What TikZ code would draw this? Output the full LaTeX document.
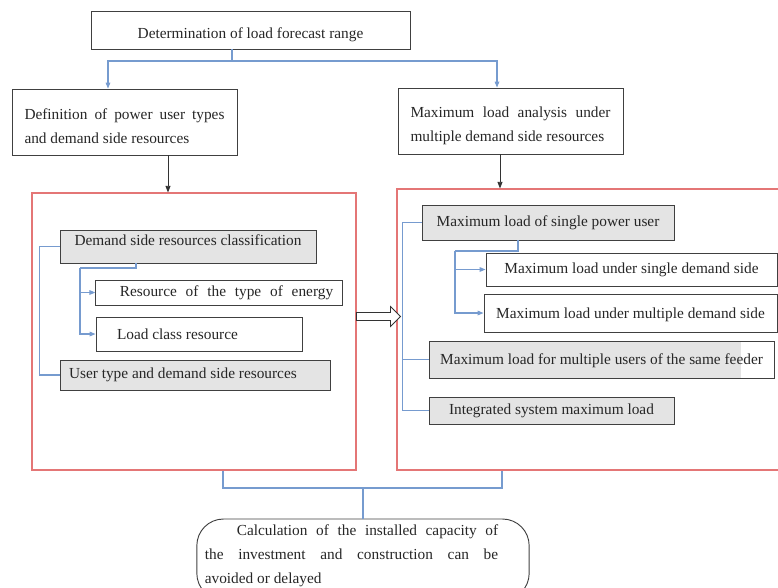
\documentclass[tikz,border=0pt]{standalone}
\usepackage{fontspec}
\setmainfont{Liberation Serif}
\usetikzlibrary{arrows.meta,calc}
\definecolor{framered}{RGB}{228,118,118}
\definecolor{linkblue}{RGB}{118,155,207}
\definecolor{boxgrey}{RGB}{228,228,228}
\tikzset{
    box/.style={draw=black!75, line width=0.7pt, inner sep=3pt,
                align=center, text=black!85},
    shaded/.style={box, fill=boxgrey},
    frame/.style={draw=framered, line width=0.8pt},
    flow/.style={-{Triangle[length=5pt,width=3.8pt]}, line width=0.7pt, black!80},
    link/.style={draw=linkblue, line width=0.8pt},
    branch/.style={link, -{Triangle[length=4.5pt,width=3.5pt]}},
    hollow/.style={draw=black!80, line width=0.6pt, fill=white},
}

\begin{document}
\begin{tikzpicture}[x=0.75pt, y=-0.75pt, font=\fontsize{11.5}{18}\selectfont]
    \useasboundingbox (0,0) rectangle (778,587);

    % outer frames
    \node[frame, minimum width=243pt, minimum height=207.75pt] (leftframe) at (194,331.5) {};
    \node[frame, minimum width=294.75pt, minimum height=210.75pt] (rightframe) at (593.5,329.5) {};

    % top of the chart
    \node[box, minimum width=239.25pt, minimum height=28.5pt] (range) at (250.5,30)
        {\rule{0pt}{15.7pt}Determination of load forecast range};
    \node[box, minimum width=168.75pt, minimum height=49.5pt, text width=150pt,
          align=justify] (usertypes) at (124.5,122)
        {\rule{0pt}{14pt}Definition of power user types and demand side resources};
    \node[box, minimum width=168.75pt, minimum height=49.5pt, text width=150pt,
          align=justify] (maxanalysis) at (510.5,121)
        {\rule{0pt}{14.5pt}Maximum load analysis under multiple demand side resources};

    % left frame
    \node[shaded, minimum width=192pt, minimum height=24.75pt] (classif) at (188,246.5)
        {\rule[-9.5pt]{0pt}{1pt}Demand side resources classification};
    \node[box, minimum width=184.5pt, minimum height=18.75pt] (energy) at (219,292.5)
        {\hspace*{15pt}\parbox{160pt}{\parfillskip=0pt Resource of the type of energy}\hspace*{3.75pt}};
    \node[box, minimum height=25.5pt, text width=123pt, inner xsep=15.75pt,
          align=flush left] (loadclass) at (199,334) {Load class resource};
    \node[shaded, minimum height=22.5pt, text width=189pt, inner xsep=6.75pt,
          align=flush left] (usertype) at (195,375) {User type and demand side resources};

    % right frame
    \node[shaded, minimum width=189pt, minimum height=26.25pt] (single) at (548,222.5)
        {Maximum load of single power user};
    \node[box, minimum width=218.25pt, minimum height=24.75pt] (demandone) at (631.5,269.5)
        {Maximum load under single demand side};
    \node[box, minimum width=219.75pt, minimum height=28.5pt] (demandmany) at (630.5,313)
        {\rule{0pt}{11pt}Maximum load under multiple demand side};
    \node[box, fill=white, minimum width=258.75pt, minimum height=27.75pt,
          path picture={\fill[boxgrey] (path picture bounding box.south west)
              rectangle ([xshift=-25pt]path picture bounding box.north east);}]
        (feeder) at (601.5,359.5) {\rule{0pt}{10.5pt}Maximum load for multiple users of the same feeder};
    \node[shaded, minimum width=183.75pt, minimum height=20.25pt] (integrated) at (551.5,410.5)
        {Integrated system maximum load};

    % result
    \node[box, rounded corners=20pt, minimum width=249pt, minimum height=60.75pt,
          inner xsep=6pt, inner ysep=2pt] (final) at (363,559.5)
        {\parbox{220pt}{\hspace*{24pt}Calculation of the installed capacity of\linebreak
         the investment and construction can be\linebreak avoided or delayed\par\vspace{5pt}}\hspace*{17.25pt}};

    % connectors
    \coordinate (split) at (232,61);
    \draw[link] (split |- range.south) -- (split);
    \draw[branch] (split) -| ($(usertypes.north)+(-16.5,0)$);
    \draw[branch] (split) -| ($(maxanalysis.north)+(-13.5,0)$);

    \coordinate (dropL) at ($(usertypes.south)+(43.5,0)$);
    \coordinate (dropR) at ($(maxanalysis.south)+(-10.5,0)$);
    \draw[flow] (dropL) -- (dropL |- leftframe.north);
    \draw[flow] (dropR) -- (dropR |- rightframe.north);

    \draw[link] (classif.west) -- ++(-20,0) |- (usertype.west);
    \coordinate (subL) at ($(classif.south)+(-52,0)$);
    \coordinate (forkL) at (80,268);
    \draw[link] (subL) -- (subL |- forkL) -- (forkL);
    \draw[branch] (forkL) |- (energy.west);
    \draw[branch] (forkL) |- (loadclass.west);

    \coordinate (spineR) at ($(single.west)+(-19,0)$);
    \draw[link] (single.west) -- (spineR) |- (integrated.west);
    \draw[link] (feeder.west) -- (feeder.west -| spineR);
    \coordinate (subR) at ($(single.south)+(-30,0)$);
    \coordinate (forkR) at (455,251);
    \draw[link] (subR) -- (subR |- forkR) -- (forkR);
    \draw[branch] (forkR) |- (demandone.west);
    \draw[branch] (forkR) |- (demandmany.west);

    % hollow arrow between the frames
    \coordinate (shiftL) at ($(leftframe.east)+(0,-15)$);
    \draw[hollow] (shiftL) ++(0,-4) -- ++(34,0) -- ++(0,-6) -- ++(10,10)
        -- ++(-10,10) -- ++(0,-6) -- ++(-34,0) -- cycle;

    \coordinate (joinL) at ($(leftframe.south)+(29,0)$);
    \coordinate (joinR) at ($(rightframe.south)+(-91.5,0)$);
    \coordinate (merge) at (363,488);
    \draw[link] (joinL) |- (merge) -| (joinR);
    \draw[link] (merge) -- (final.north);

\end{tikzpicture}
\end{document}
